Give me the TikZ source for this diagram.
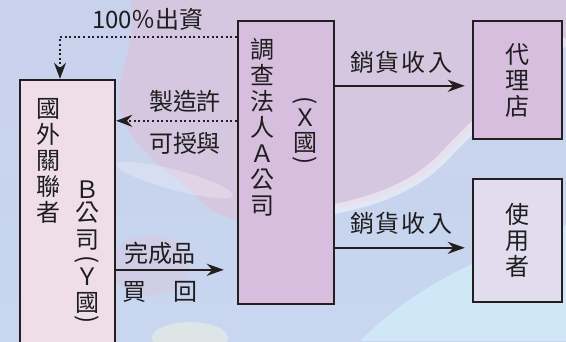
\documentclass[tikz,border=0pt]{standalone}
\usepackage{fontspec}
\usepackage{graphicx}
\setmainfont{Noto Sans CJK TC}
\usetikzlibrary{arrows.meta}
\definecolor{boxA}{HTML}{D7BDDE}
\definecolor{boxB}{HTML}{EFDDE8}
\definecolor{boxU}{HTML}{E1DDEF}
\definecolor{edge}{HTML}{231F20}
\definecolor{txt}{HTML}{1E1E1E}
\definecolor{bgtop}{HTML}{C9D2EC}
\definecolor{bgbot}{HTML}{C8D6EF}
\definecolor{blob}{HTML}{D8C6DF}
\definecolor{cyanish}{HTML}{D3ECF9}
\newcommand{\vlp}{\rotatebox[origin=c]{-90}{(}}
\newcommand{\vrp}{\rotatebox[origin=c]{-90}{)}}
\begin{document}
\begin{tikzpicture}[x=1pt,y=-1pt,
  box/.style={draw=edge, line width=2.4pt, inner sep=0pt},
  vtext/.style={align=center, font=\fontsize{24}{26}\selectfont, inner sep=0pt, text=txt},
  glyph/.style={font=\fontsize{24}{26}\selectfont, inner sep=0pt, text=txt},
  lab/.style={font=\fontsize{24}{26}\selectfont, inner sep=0pt, text=txt},
  solidarrow/.style={draw=edge, line width=2.4pt, -{Stealth[length=17pt,width=12pt]}},
  dotarrow/.style={draw=edge, line width=2pt, dash pattern=on 2pt off 2.6pt, -{Stealth[length=16pt,width=12pt]}}]
\useasboundingbox (0,0) rectangle (566,341);
% background
\shade[top color=bgtop, bottom color=bgbot] (0,0) rectangle (566,341);
\fill[blob, opacity=0.9] (130,0) -- (566,0) -- (566,40) .. controls (520,80) and (480,120) .. (450,150) .. controls (420,185) and (380,200) .. (330,210) .. controls (280,222) and (230,232) .. (200,200) .. controls (170,170) and (130,150) .. (120,110) .. controls (115,70) and (140,40) .. (130,0) -- cycle;
\draw[white, line width=10pt, opacity=0.45] (566,40) .. controls (520,80) and (480,120) .. (450,150) .. controls (420,185) and (380,200) .. (330,210);
\fill[cyanish, opacity=0.8] (360,341) .. controls (420,280) and (500,250) .. (566,225) -- (566,341) -- cycle;
\fill[blob, opacity=0.5] (150,265) ellipse [x radius=40, y radius=30];
\fill[white, opacity=0.25, rotate around={-15:(175,180)}] (175,180) ellipse [x radius=60, y radius=10];
\fill[yellow!15!white, opacity=0.4] (190,338) ellipse [x radius=38, y radius=16];
% boxes
\node[box, fill=boxA, minimum width=96pt, minimum height=283pt] (A) at (286,162.5) {};
\node[box, fill=boxB, minimum width=95pt, minimum height=275pt] (B) at (67.5,217.5) {};
\node[box, fill=boxA, minimum width=89pt, minimum height=118pt] (D) at (517.5,80) {};
\node[box, fill=boxU, minimum width=89pt, minimum height=123pt] (U) at (517.5,240.5) {};
% box texts
\node[vtext] (a1) at (262,127) {調\\查\\法\\人\\Ａ\\公\\司};
\foreach \c/\y [count=\i] in {\vlp/102, Ｘ/118, 國/143, \vrp/162}
  \node[glyph] (a2-\i) at (305,\y) {\c};
\node[vtext] (b1) at (48,161) {國\\外\\關\\聯\\者};
\foreach \c/\y [count=\i] in {Ｂ/190, 公/213, 司/240, \vlp/261, Ｙ/277, 國/303, \vrp/321}
  \node[glyph] (b2-\i) at (87,\y) {\c};
\node[vtext] (d1) at (517,80) {代\\理\\店};
\node[vtext] (u1) at (517,240) {使\\用\\者};
% connectors
\coordinate (p1) at ([yshift=-17pt]A.north west);
\coordinate (p2) at ([yshift=-101pt]A.north west);
\coordinate (p3) at ([yshift=-191pt]B.north east);
\coordinate (p4) at ([xshift=-13pt]A.west |- p3);
\coordinate (p5) at ([yshift=-66pt]A.north east);
\coordinate (p6) at ([yshift=-228pt]A.north east);
\draw[dotarrow] (p1) -| ([xshift=-7.5pt]B.north);
\draw[dotarrow] (p2) -- (B.east |- p2);
\draw[solidarrow] (p3) -- (p4);
\draw[solidarrow, shorten >=7pt] (p5) -- (D.west |- p5);
\draw[solidarrow, shorten >=7pt] (p6) -- (U.west |- p6);
% labels
\node[lab] (l1) at (148,19) {100％出資};
\node[lab] (l2) at (185,101) {製造許};
\node[lab] (l3) at (185,143) {可授與};
\node[lab] (l4) at (160,253) {完成品};
\node[lab] (l5) at (160,292) {買\hspace{28pt}回};
\node[lab] (l6) at (401,62) {銷\hspace{2pt}貨\hspace{2pt}收\hspace{2pt}入};
\node[lab] (l7) at (401,223) {銷\hspace{2pt}貨\hspace{2pt}收\hspace{2pt}入};
\end{tikzpicture}
\end{document}
